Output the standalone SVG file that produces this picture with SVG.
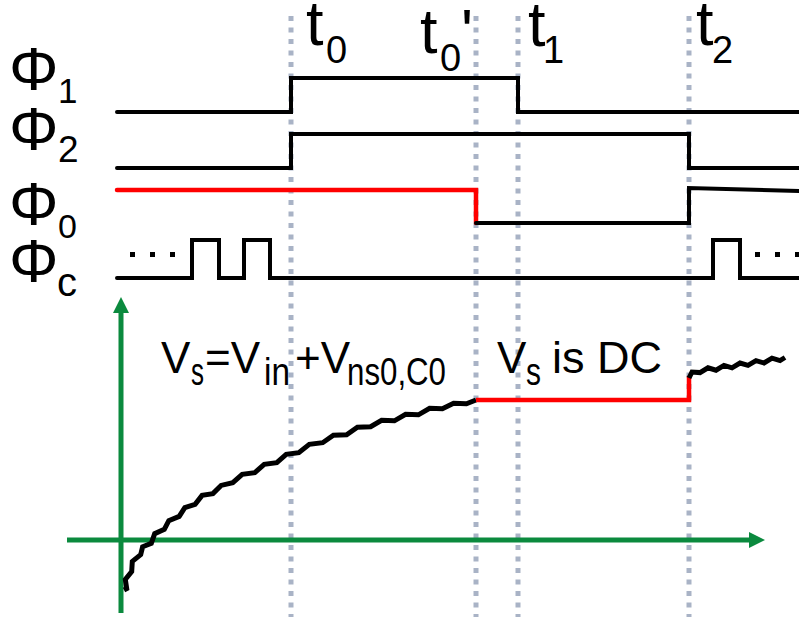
<svg xmlns="http://www.w3.org/2000/svg" width="799" height="617" viewBox="0 0 799 617">
  <style>
    .lbl { font-family: "Liberation Sans", Arial, sans-serif; fill: #000; }
    .dot { stroke: #a9b3c6; stroke-width: 5; stroke-dasharray: 5 6.5; fill: none; }
    .sig { stroke: #000; stroke-width: 4; fill: none; stroke-linejoin: miter; stroke-linecap: round; }
    .red { stroke: #ff0000; stroke-width: 4.5; fill: none; stroke-linejoin: miter; }
    .ax { stroke: #0b8a3e; stroke-width: 5; fill: none; }
    .curve { stroke: #000; stroke-width: 5; fill: none; stroke-linejoin: miter; stroke-miterlimit: 10; }
    .ell { stroke: #000; stroke-width: 5; stroke-dasharray: 5 15; fill: none; }
  </style>
  <defs>
    <marker id="arr" viewBox="0 0 16 16" refX="1" refY="8" markerWidth="16" markerHeight="16" markerUnits="userSpaceOnUse" orient="auto">
      <path d="M0,0 L16,8 L0,16 Z" fill="#0b8a3e"/>
    </marker>
  </defs>
  <rect width="799" height="617" fill="#ffffff"/>

  <g id="time-markers">
    <line class="dot" x1="291" y1="16" x2="291" y2="617"/>
    <line class="dot" x1="476" y1="16" x2="476" y2="617"/>
    <line class="dot" x1="518" y1="16" x2="518" y2="617"/>
    <line class="dot" x1="689" y1="16" x2="689" y2="617"/>
  </g>

  <g id="time-labels" class="lbl">
    <text x="306" y="45" font-size="63">t<tspan x="326" y="63" font-size="38">0</tspan></text>
    <text x="420" y="53" font-size="63">t<tspan x="440" y="71" font-size="38">0</tspan><tspan x="461" y="53">'</tspan></text>
    <text x="528" y="46" font-size="63">t<tspan x="543" y="63" font-size="38">1</tspan></text>
    <text x="696" y="45" font-size="63">t<tspan x="712" y="63" font-size="38">2</tspan></text>
  </g>

  <g id="signal-labels" class="lbl">
    <text x="9" y="90" font-size="62">Φ<tspan x="58" y="103" font-size="35">1</tspan></text>
    <text x="9" y="150" font-size="62">Φ<tspan x="58" y="162" font-size="37">2</tspan></text>
    <text x="9" y="225" font-size="62">Φ<tspan x="58" y="238" font-size="34">0</tspan></text>
    <text x="9" y="282" font-size="62">Φ<tspan x="57" y="296" font-size="40">c</tspan></text>
  </g>

  <g id="phi1">
    <path class="sig" d="M117,112 H291 V78 H518 V112 H801"/>
  </g>
  <g id="phi2">
    <path class="sig" d="M117,168 H291 V134 H689 V168 H801"/>
  </g>
  <g id="phi0">
    <path class="red" d="M117,190 H476 V223" style="stroke-linecap:round"/>
    <path class="sig" d="M476,223 H689 V188 L801,191"/>
  </g>
  <g id="phic">
    <path class="sig" d="M117,278 H192 V240 H219 V278 H244 V240 H270 V278 H713 V240 H740 V278 H801"/>
    <path class="ell" d="M130,254.5 H180"/>
    <path class="ell" d="M755,254.5 H805"/>
  </g>

  <g id="axes">
    <line class="ax" x1="121" y1="613" x2="121" y2="312" marker-end="url(#arr)"/>
    <line class="ax" x1="67" y1="540" x2="750" y2="540" marker-end="url(#arr)"/>
  </g>

  <g id="vs-curve">
    <polyline class="curve" points="124,590 126.7,588.6 125.3,579.4 131.7,571.6 132.3,561.4 140.7,554.6 142.6,546.8 151.3,543.3 154.7,533.7 164.3,529.3 168.8,520.6 179.2,516.4 184.8,507.6 195.1,504.4 202.1,495.4 212.9,493.6 221.1,485.4 232.8,482.6 242.2,474.4 254.8,472.6 264.2,464.4 276.8,462.6 286.2,454.4 298.8,452.6 309.3,444.3 322.7,442.7 333.4,435.3 346.6,434.7 357.4,427.3 370.6,426.7 381.6,420.3 394.4,420.8 405.6,414.3 418.4,414.8 429.6,408.3 442.4,408.8 453.6,403.3 466.4,403.8 476,400"/>
    <path class="red" d="M476,400 H689 V376"/>
    <polyline class="curve" points="689,378 692,372 700,372.6 708,367.8 716,370.2 724,365.4 732,367.8 740,363 748,365.4 756,360.6 764,363 772,358.2 780,360.6 785,357.5"/>
  </g>

  <g id="vs-labels" class="lbl">
    <text x="161" y="373" font-size="44">V<tspan x="191" y="385" font-size="38" textLength="13" lengthAdjust="spacingAndGlyphs">s</tspan><tspan x="205" y="373">=V</tspan><tspan x="264" y="385" font-size="38" textLength="26" lengthAdjust="spacingAndGlyphs">in</tspan><tspan x="295" y="373">+V</tspan><tspan x="347" y="385" font-size="38" textLength="99" lengthAdjust="spacingAndGlyphs">ns0,C0</tspan></text>
    <text x="497" y="373" font-size="44">V<tspan x="526" y="385" font-size="38" textLength="15" lengthAdjust="spacingAndGlyphs">s</tspan><tspan x="552" y="373" font-size="45">is DC</tspan></text>
  </g>
</svg>
